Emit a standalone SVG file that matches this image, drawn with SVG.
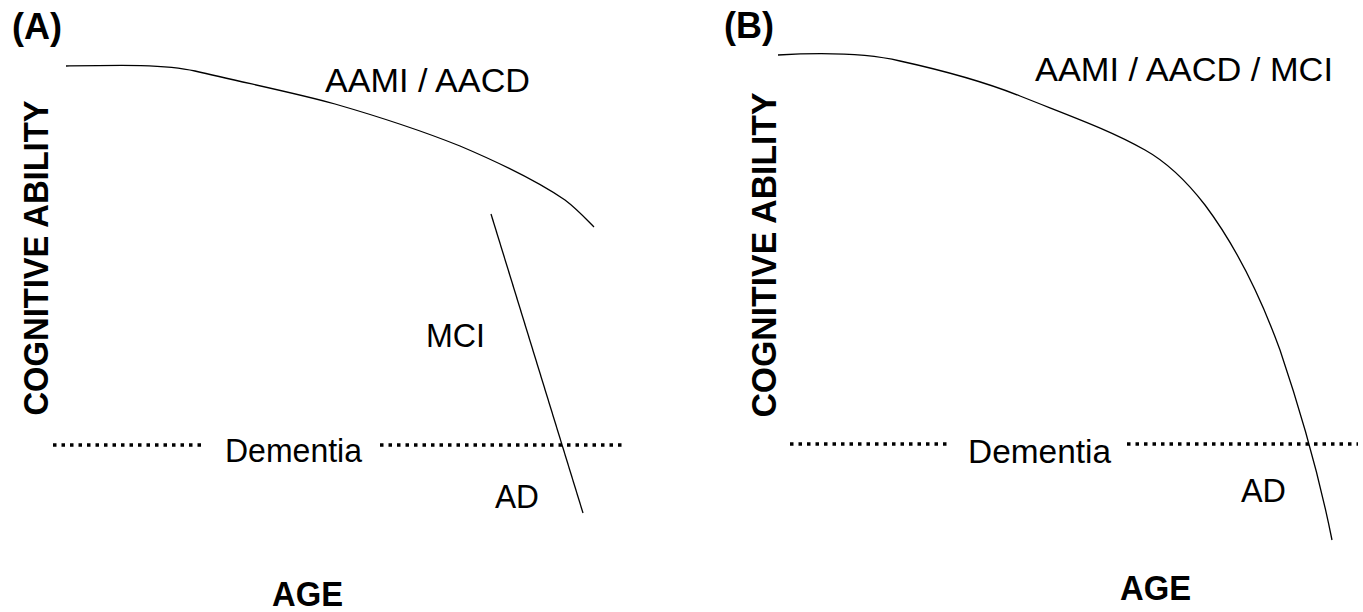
<svg xmlns="http://www.w3.org/2000/svg" width="1363" height="612" viewBox="0 0 1363 612">
<style>
  .lbl { font-family: "Liberation Sans", Arial, sans-serif; font-size: 34px; fill: #000; }
  .bold { font-family: "Liberation Sans", Arial, sans-serif; font-weight: bold; fill: #000; }
  .curve { fill: none; stroke: #000; stroke-width: 1.3; }
  .dots { fill: none; stroke: #000; stroke-width: 3.5; stroke-dasharray: 3.5 5; }
</style>
<rect width="1363" height="612" fill="#fff"/>
<g id="panelA">
  <text class="bold" x="12" y="39" font-size="36">(A)</text>
  <text class="bold" font-size="35" transform="translate(48,258) rotate(-90)" text-anchor="middle" textLength="315" lengthAdjust="spacingAndGlyphs">COGNITIVE ABILITY</text>
  <text class="bold" x="272" y="606" font-size="35" textLength="71" lengthAdjust="spacingAndGlyphs">AGE</text>
  <g id="A-dementia">
    <line class="dots" x1="53" y1="445" x2="203" y2="445"/>
    <line class="dots" x1="380" y1="445" x2="622" y2="445"/>
    <text class="lbl" x="225" y="462" textLength="137" lengthAdjust="spacingAndGlyphs">Dementia</text>
  </g>
  <text id="A-aami" class="lbl" x="325" y="92" font-size="35" textLength="205" lengthAdjust="spacingAndGlyphs">AAMI / AACD</text>
  <text id="A-mci" class="lbl" x="426" y="347" textLength="59" lengthAdjust="spacingAndGlyphs">MCI</text>
  <text id="A-ad" class="lbl" x="495" y="508" textLength="44" lengthAdjust="spacingAndGlyphs">AD</text>
</g>
<g id="panelB">
  <text class="bold" x="724" y="38" font-size="36">(B)</text>
  <text class="bold" font-size="35" transform="translate(776,255) rotate(-90)" text-anchor="middle" textLength="325" lengthAdjust="spacingAndGlyphs">COGNITIVE ABILITY</text>
  <text class="bold" x="1120" y="600" font-size="35" textLength="71" lengthAdjust="spacingAndGlyphs">AGE</text>
  <g id="B-dementia">
    <line class="dots" x1="790" y1="444" x2="948" y2="444"/>
    <line class="dots" x1="1127" y1="444" x2="1358" y2="444"/>
    <text class="lbl" x="968" y="463" textLength="143" lengthAdjust="spacingAndGlyphs">Dementia</text>
  </g>
  <text id="B-aami" class="lbl" x="1035" y="81" font-size="35" textLength="298" lengthAdjust="spacingAndGlyphs">AAMI / AACD / MCI</text>
  <text id="B-ad" class="lbl" x="1241" y="502" textLength="45" lengthAdjust="spacingAndGlyphs">AD</text>
</g>
<g id="connectors">
  <path class="curve" d="M66,66 C120,65 165,64 195,71 C250,84 300,94 335,104 C380,117 420,130 460,146 C500,163 540,183 565,200 C577,209 588,221 594,227"/>
  <line class="curve" x1="491" y1="214" x2="583" y2="513"/>
  <path class="curve" d="M778,55 C830,52 870,54 900,61 C950,72 985,82 1020,96 C1070,116 1110,130 1145,150 C1170,164 1188,183 1205,205 C1235,245 1260,295 1280,350 C1302,415 1320,480 1332,540"/>
</g>
</svg>
